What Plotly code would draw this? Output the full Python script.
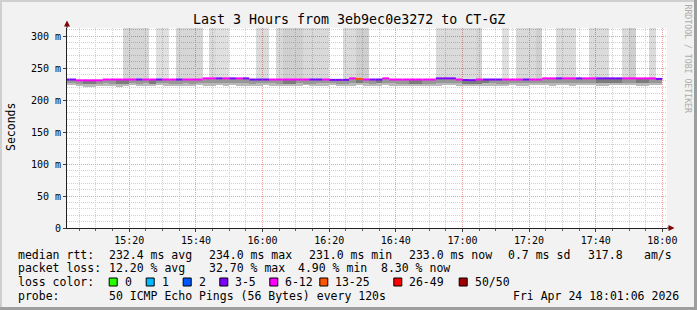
import plotly.graph_objects as go
import pandas as pd

# ---------------- data ----------------
DAY = "2026-04-24"
bin_start = pd.date_range(f"{DAY} 15:00", periods=90, freq="2min")
x_range = [f"{DAY} 15:01:18", f"{DAY} 18:01:24"]

median_ms = [
    232, 232, 230.8, 230.8, 230.8, 230.8, 232, 232, 232, 232,
    232, 232, 232, 232, 232, 232, 232, 232, 232, 232,
    232, 233.8, 233.8, 233.8, 233.8, 233.8, 233.8, 233.8, 232, 232,
    232, 232, 232, 232, 232, 232, 232, 232, 232, 232,
    231.5, 231.5, 231.5, 233.8, 233, 232, 232, 232, 233.8, 232,
    232, 232, 232, 232, 232, 232, 233.8, 233.8, 233.8, 232,
    231.2, 231, 232, 232, 232, 232, 232, 232, 232, 232,
    232, 232, 233.8, 233.8, 233.8, 233.8, 233.8, 233.8, 233.8, 233.8,
    233.8, 233.8, 233.8, 233.8, 233.8, 233.8, 233.8, 233.8, 233.8, 233,
]
loss_class = [
    "3-5", "3-5", "6-12", "6-12", "6-12", "6-12", "6-12", "6-12", "6-12", "6-12",
    "6-12", "3-5", "6-12", "6-12", "3-5", "6-12", "6-12", "3-5", "6-12", "6-12",
    "6-12", "6-12", "6-12", "3-5", "6-12", "3-5", "6-12", "3-5", "3-5", "3-5",
    "3-5", "6-12", "6-12", "6-12", "6-12", "6-12", "6-12", "3-5", "3-5", "6-12",
    "3-5", "3-5", "3-5", "6-12", "13-25", "6-12", "3-5", "3-5", "6-12", "6-12",
    "6-12", "6-12", "6-12", "6-12", "6-12", "6-12", "3-5", "3-5", "3-5", "6-12",
    "3-5", "3-5", "6-12", "3-5", "3-5", "3-5", "6-12", "6-12", "6-12", "3-5",
    "6-12", "6-12", "6-12", "6-12", "3-5", "6-12", "6-12", "3-5", "6-12", "6-12",
    "3-5", "3-5", "3-5", "3-5", "6-12", "6-12", "6-12", "6-12", "6-12", "3-5",
]
smoke_mid = [
    227, 227, 225.5, 224.5, 224.5, 225.5, 226.5, 225.5, 224.5, 225.5,
    226.5, 225.5, 226.5, 225.5, 226.5, 226.5, 225.5, 225.5, 226.5, 225.5,
    226.5, 226.5, 226, 226.5, 226.5, 227, 226.5, 226, 225.5, 226.5,
    226.5, 226.5, 225.5, 225, 225.5, 226.5, 225.5, 225.5, 226.5, 226.5,
    226, 225.5, 225.5, 226.5, 227, 226.5, 225.5, 226, 226.5, 226.5,
    225.5, 225.5, 225, 225, 225.5, 225.5, 226.5, 226.5, 227, 226.5,
    225.5, 225, 225.5, 226, 226.5, 225.5, 225.5, 226.5, 226.5, 226.5,
    226.5, 227, 226.5, 226, 227, 227, 226.5, 226.5, 227, 227,
    226, 226, 226.5, 227, 227, 227, 226, 226, 227, 227,
]
smoke_lo = [
    224, 223.5, 222.5, 220.5, 220.5, 221.5, 222.5, 222.5, 221.5, 222.5,
    223.5, 222.5, 222.5, 221.5, 223.5, 222.5, 222.5, 221.5, 222.5, 222.5,
    223.5, 222.5, 222.5, 223.5, 222.5, 223.5, 222.5, 222.5, 221.5, 222.5,
    223.5, 222.5, 222.5, 221.5, 221.5, 222.5, 223.5, 222.5, 222.5, 222.5,
    223.5, 221.5, 221.5, 222.5, 223.5, 222.5, 221.5, 222.5, 223.5, 222.5,
    222.5, 221.5, 221.5, 222.5, 222.5, 222.5, 222.5, 223.5, 223.5, 222.5,
    221.5, 221.5, 221.5, 222.5, 222.5, 222.5, 222.5, 223.5, 222.5, 222.5,
    223.5, 223.5, 223.5, 222.5, 223.5, 223.5, 222.5, 223.5, 223.5, 223.5,
    222.5, 222.5, 223.5, 223.5, 223.5, 223.5, 222.5, 222.5, 223.5, 223.5,
]
smoke_dark_bins = [3, 4, 8, 9, 13, 33, 34, 44, 47, 52, 53, 60, 61, 62, 63,
                   80, 81, 82, 83, 86, 87]

# periods where some pings went off the top of the graph
tall_start = ["15:18", "15:28", "15:34", "15:44", "15:46", "15:58", "16:04", "16:06",
              "16:12", "16:24", "16:28", "16:52", "17:04", "17:12", "17:16", "17:22",
              "17:28", "17:38", "17:48", "17:50", "17:56"]
tall_end = ["15:26", "15:32", "15:42", "15:46", "15:50", "16:02", "16:06", "16:12",
            "16:20", "16:28", "16:32", "17:04", "17:06", "17:14", "17:22", "17:24",
            "17:34", "17:44", "17:50", "17:52", "17:58"]
tall_alpha = [0.16, 0.12, 0.16, 0.14, 0.12, 0.14, 0.15, 0.19,
              0.15, 0.14, 0.19, 0.14, 0.17, 0.12, 0.15, 0.19,
              0.14, 0.14, 0.14, 0.19, 0.14]

loss_labels = ["0", "1", "2", "3-5", "6-12", "13-25", "26-49", "50/50"]
loss_colors = ["#26ff00", "#00b8ff", "#0059ff", "#7e00ff", "#ff00ff", "#ff5500", "#ff0000", "#a10000"]

y_ticks = [0, 50, 100, 150, 200, 250, 300]
y_ticktext = ["0", "50 m", "100 m", "150 m", "200 m", "250 m", "300 m"]

title_text = "Last 3 Hours from 3eb9ec0e3272 to CT-GZ"
rtt_stats = ["232.4 ms avg", "234.0 ms max", "231.0 ms min", "233.0 ms now", "0.7 ms sd", "317.8", "am/s"]
loss_stats = ["12.20 % avg", "32.70 % max", "4.90 % min", "8.30 % now"]
probe_text = "50 ICMP Echo Pings (56 Bytes) every 120s"
stamp_text = "Fri Apr 24 18:01:06 2026"

# ---------------- layout geometry ----------------
W, H = 697, 310
L, R, T, B = 67, 30, 28, 82
PW, PH = W - L - R, H - T - B
MONO = "DejaVu Sans Mono"


def px(x):
    return (x - L) / PW


def py(y):
    return (H - B - y) / PH


step = pd.Timedelta("2min")
centers = bin_start + step / 2
fig = go.Figure()

# tall smoke (off-scale pings)
t_s = [pd.Timestamp(f"{DAY} {s}") for s in tall_start]
t_e = [pd.Timestamp(f"{DAY} {e}") for e in tall_end]
fig.add_trace(go.Bar(
    x=[a + (b - a) / 2 for a, b in zip(t_s, t_e)],
    width=[(b - a).total_seconds() * 1000 for a, b in zip(t_s, t_e)],
    base=[228] * len(t_s), y=[400 - 228] * len(t_s),
    marker=dict(color=[f"rgba(0,0,0,{a})" for a in tall_alpha], line=dict(width=0)),
    hoverinfo="skip",
))

# light smoke band
fig.add_trace(go.Bar(
    x=centers, width=120000, base=smoke_lo,
    y=[m - l for m, l in zip(smoke_mid, smoke_lo)],
    marker=dict(color="#b9b9b9", line=dict(width=0)), hoverinfo="skip",
))
# dark smoke band (up to the median)
fig.add_trace(go.Bar(
    x=centers, width=120000, base=smoke_mid,
    y=[md - m for md, m in zip(median_ms, smoke_mid)],
    marker=dict(color=["#7c7c7c" if i in smoke_dark_bins else "#979797" for i in range(90)],
                line=dict(width=0)), hoverinfo="skip",
))

# median line coloured by loss
for lab, col in zip(loss_labels, loss_colors):
    xs, ys = [], []
    for i, c in enumerate(loss_class):
        if c == lab:
            xs += [bin_start[i], bin_start[i] + step, None]
            ys += [median_ms[i], median_ms[i], None]
    if xs:
        fig.add_trace(go.Scatter(x=xs, y=ys, mode="lines",
                                 line=dict(color=col, width=2), hoverinfo="skip"))

shapes = []
# frame
shapes += [
    dict(type="rect", xref="paper", yref="paper", x0=px(0), x1=px(W), y0=py(2), y1=py(0),
         line=dict(width=0), fillcolor="#cfcfcf", layer="below"),
    dict(type="rect", xref="paper", yref="paper", x0=px(0), x1=px(2), y0=py(H), y1=py(0),
         line=dict(width=0), fillcolor="#cfcfcf", layer="below"),
    dict(type="rect", xref="paper", yref="paper", x0=px(0), x1=px(W), y0=py(H), y1=py(H - 3),
         line=dict(width=0), fillcolor="#9e9e9e", layer="below"),
    dict(type="rect", xref="paper", yref="paper", x0=px(W - 3), x1=px(W), y0=py(H), y1=py(0),
         line=dict(width=0), fillcolor="#9e9e9e", layer="below"),
]
# axis extensions and arrows
shapes += [
    dict(type="line", xref="paper", yref="paper", x0=0, x1=0, y0=1, y1=py(25),
         line=dict(color="#202020", width=1)),
    dict(type="line", xref="paper", yref="paper", x0=1, x1=px(670), y0=0, y1=0,
         line=dict(color="#202020", width=1)),
    dict(type="path", xref="paper", yref="paper",
         path=f"M {px(64)},{py(26.5)} L {px(70)},{py(26.5)} L {px(67)},{py(20.5)} Z",
         fillcolor="#7f0000", line=dict(width=0)),
    dict(type="path", xref="paper", yref="paper",
         path=f"M {px(668.5)},{py(225)} L {px(668.5)},{py(231)} L {px(674.5)},{py(228)} Z",
         fillcolor="#7f0000", line=dict(width=0)),
]

ann = []


def text(x, y, s, size=11.5, anchor="left", color="#000", angle=0, ya="middle"):
    ann.append(dict(x=px(x), y=py(y), xref="paper", yref="paper", text=s, showarrow=False,
                    xanchor=anchor, yanchor=ya, textangle=angle,
                    font=dict(family=MONO, size=size, color=color)))


text(348.5, 19, title_text, size=13.3, anchor="center")
text(11, 127, "Seconds", size=11.5, anchor="center", angle=-90)
text(687.5, 59, "RRDTOOL / TOBI OETIKER", size=8.2, anchor="center", color="#ababab", angle=90)

rows = [255, 268.4, 282, 295.6]
text(16, rows[0], "median rtt:")
for s, x in zip(rtt_stats, [107.3, 207.3, 307.3, 407.3, 506.7, 586.7, 642.3]):
    text(x - 0.5, rows[0], s)
text(16, rows[1], "packet loss:")
for s, x in zip(loss_stats, [107.3, 207.3, 296, 379.3]):
    text(x - 0.5, rows[1], s)
text(16, rows[2], "loss color:")
for lab, col, x in zip(loss_labels, loss_colors, [108.7, 145.7, 182.7, 219.3, 269.3, 319.3, 393.3, 458.7]):
    shapes.append(dict(type="rect", xref="paper", yref="paper", x0=px(x + 0.5), x1=px(x + 8.5),
                       y0=py(286), y1=py(278), fillcolor=col, line=dict(color="#000", width=1)))
    text(x + 14.6 - 0.5, rows[2], lab)
text(16, rows[3], "probe:")
text(106.8, rows[3], probe_text)
text(681, rows[3], stamp_text, anchor="right")

fig.update_layout(
    width=W, height=H, margin=dict(l=L, r=R, t=T, b=B, pad=0),
    paper_bgcolor="#f2f2f2", plot_bgcolor="#ffffff",
    barmode="overlay", bargap=0, showlegend=False,
    shapes=shapes, annotations=ann,
    font=dict(family=MONO, size=10, color="#000"),
    xaxis=dict(type="date", range=x_range, tick0=f"{DAY} 15:00", dtick=20 * 60 * 1000,
               tickformat="%H:%M", showgrid=True, gridcolor="#eba0a0", griddash="1px,1px",
               gridwidth=1, zeroline=False, showline=True, linecolor="#202020", linewidth=1,
               ticks="outside", ticklen=3, tickcolor="#404040",
               tickfont=dict(family=MONO, size=10),
               minor=dict(dtick=5 * 60 * 1000, showgrid=True, gridcolor="#d0d0d0",
                          griddash="1px,1px", ticks="outside", ticklen=2, tickcolor="#606060")),
    yaxis=dict(range=[0, 312.5], tickvals=y_ticks, ticktext=y_ticktext, showgrid=True,
               gridcolor="#eba0a0", griddash="1px,1px", zeroline=False, showline=True,
               linecolor="#202020", linewidth=1, ticks="outside", ticklen=3, tickcolor="#404040",
               tickfont=dict(family=MONO, size=10),
               minor=dict(dtick=10, showgrid=True, gridcolor="#d0d0d0", griddash="1px,1px")),
)

fig.write_html("out.html")
